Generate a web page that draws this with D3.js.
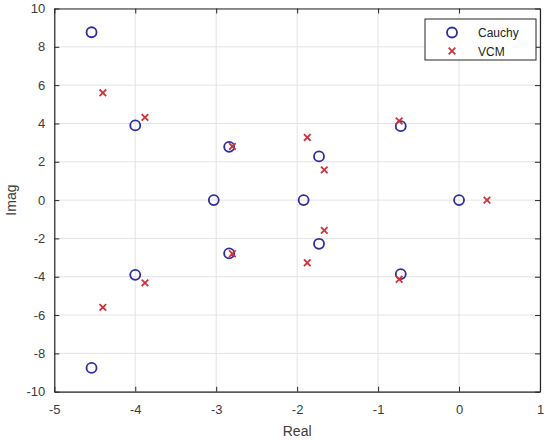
<!DOCTYPE html>
<html>
<head>
<meta charset="utf-8">
<script src="https://cdn.jsdelivr.net/npm/d3@7"></script>
<style>
  body { margin: 0; background: #fff; }
  text { font-family: "Liberation Sans", Arial, sans-serif; }
</style>
</head>
<body>
<svg id="chart" width="550" height="441"></svg>
<script>
var width = 550, height = 441;

// pole locations
var cauchyReal = [-4.54, -4.54, -4.0, -4.0, -2.84, -2.84, -3.03, -1.92, -1.73, -1.73, -0.72, -0.72, 0.0];
var cauchyImag = [8.76, -8.76, 3.9, -3.9, 2.78, -2.78, 0, 0, 2.28, -2.28, 3.86, -3.86, 0];
var vcmReal = [-4.4, -4.4, -3.88, -3.88, -2.8, -2.8, -1.875, -1.875, -1.665, -1.665, -0.74, -0.74, 0.345];
var vcmImag = [5.6, -5.6, 4.32, -4.32, 2.8, -2.8, 3.27, -3.27, 1.58, -1.58, 4.13, -4.13, 0];
var xTicks = [-5, -4, -3, -2, -1, 0, 1];
var yTicks = [-10, -8, -6, -4, -2, 0, 2, 4, 6, 8, 10];

var margin = {t: 8.5, r: 10, b: 49.3, l: 54.3};
var svg = d3.select("#chart");

var xScale = d3.scaleLinear().domain([-5, 1]).range([margin.l, width - margin.r]);
var yScale = d3.scaleLinear().domain([-10, 10]).range([height - margin.b, margin.t]);

var x0 = xScale(-5), x1 = xScale(1), y0 = yScale(-10), y1 = yScale(10);
var fmt = function(d) { return String(d); };

// grid
svg.append("g").selectAll("line").data(xTicks).enter().append("line")
  .attr("x1", d => xScale(d)).attr("x2", d => xScale(d))
  .attr("y1", y1).attr("y2", y0)
  .attr("stroke", "#e3e3e3").attr("stroke-width", 1);
svg.append("g").selectAll("line").data(yTicks).enter().append("line")
  .attr("y1", d => yScale(d)).attr("y2", d => yScale(d))
  .attr("x1", x0).attr("x2", x1)
  .attr("stroke", "#e3e3e3").attr("stroke-width", 1);

// axes (ticks inside, box all round)
var xAxis = d3.axisBottom(xScale).tickValues(xTicks).tickFormat(fmt).tickSizeInner(-5).tickSizeOuter(0).tickPadding(13);
var yAxis = d3.axisLeft(yScale).tickValues(yTicks).tickFormat(fmt).tickSizeInner(-5).tickSizeOuter(0).tickPadding(9);

var gx = svg.append("g").attr("transform", "translate(0," + y0 + ")").call(xAxis);
var gy = svg.append("g").attr("transform", "translate(" + x0 + ",0)").call(yAxis);
var gxTop = svg.append("g").attr("transform", "translate(0," + y1 + ")")
  .call(d3.axisTop(xScale).tickValues(xTicks).tickSizeInner(-5).tickSizeOuter(0).tickFormat(""));
var gyRight = svg.append("g").attr("transform", "translate(" + x1 + ",0)")
  .call(d3.axisRight(yScale).tickValues(yTicks).tickSizeInner(-5).tickSizeOuter(0).tickFormat(""));

[gx, gy, gxTop, gyRight].forEach(function(g) {
  g.select(".domain").attr("stroke", "#262626").attr("stroke-width", 1.2);
  g.selectAll(".tick line").attr("stroke", "#262626");
  g.selectAll(".tick text").attr("fill", "#3c3c3c").style("font-size", "13px");
});

// labels
svg.append("text")
  .attr("x", (x0 + x1) / 2).attr("y", 436)
  .attr("text-anchor", "middle").attr("fill", "#3c3c3c")
  .style("font-size", "14px").text("Real");
svg.append("text")
  .attr("transform", "translate(16," + ((y0 + y1) / 2) + ") rotate(-90)")
  .attr("text-anchor", "middle").attr("fill", "#3c3c3c")
  .style("font-size", "14px").text("Imag");

var blue = "#2d2d9f", red = "#d0323a";

// Cauchy circles
svg.append("g").selectAll("circle").data(cauchyReal).enter().append("circle")
  .attr("cx", d => xScale(d))
  .attr("cy", (d, i) => yScale(cauchyImag[i]))
  .attr("r", 5)
  .attr("fill", "none").attr("stroke", blue).attr("stroke-width", 1.8);

// VCM crosses
var s = 3.3;
svg.append("g").selectAll("path").data(vcmReal).enter().append("path")
  .attr("d", function(d, i) {
    var cx = xScale(d), cy = yScale(vcmImag[i]);
    return "M" + (cx - s) + "," + (cy - s) + "L" + (cx + s) + "," + (cy + s) +
           "M" + (cx - s) + "," + (cy + s) + "L" + (cx + s) + "," + (cy - s);
  })
  .attr("stroke", red).attr("stroke-width", 1.8).attr("fill", "none");

// legend
var lg = svg.append("g");
lg.append("rect").attr("x", 425).attr("y", 19).attr("width", 111).attr("height", 41)
  .attr("fill", "#fff").attr("stroke", "#262626").attr("stroke-width", 1);
lg.append("circle").attr("cx", 452).attr("cy", 32.5).attr("r", 5)
  .attr("fill", "none").attr("stroke", blue).attr("stroke-width", 1.8);
lg.append("path")
  .attr("d", "M" + (452 - s) + "," + (51 - s) + "L" + (452 + s) + "," + (51 + s) +
             "M" + (452 - s) + "," + (51 + s) + "L" + (452 + s) + "," + (51 - s))
  .attr("stroke", red).attr("stroke-width", 1.8);
lg.append("text").attr("x", 478).attr("y", 37).attr("fill", "#222")
  .style("font-size", "12px").text("Cauchy");
lg.append("text").attr("x", 478).attr("y", 55.5).attr("fill", "#222")
  .style("font-size", "12px").text("VCM");
</script>
</body>
</html>
